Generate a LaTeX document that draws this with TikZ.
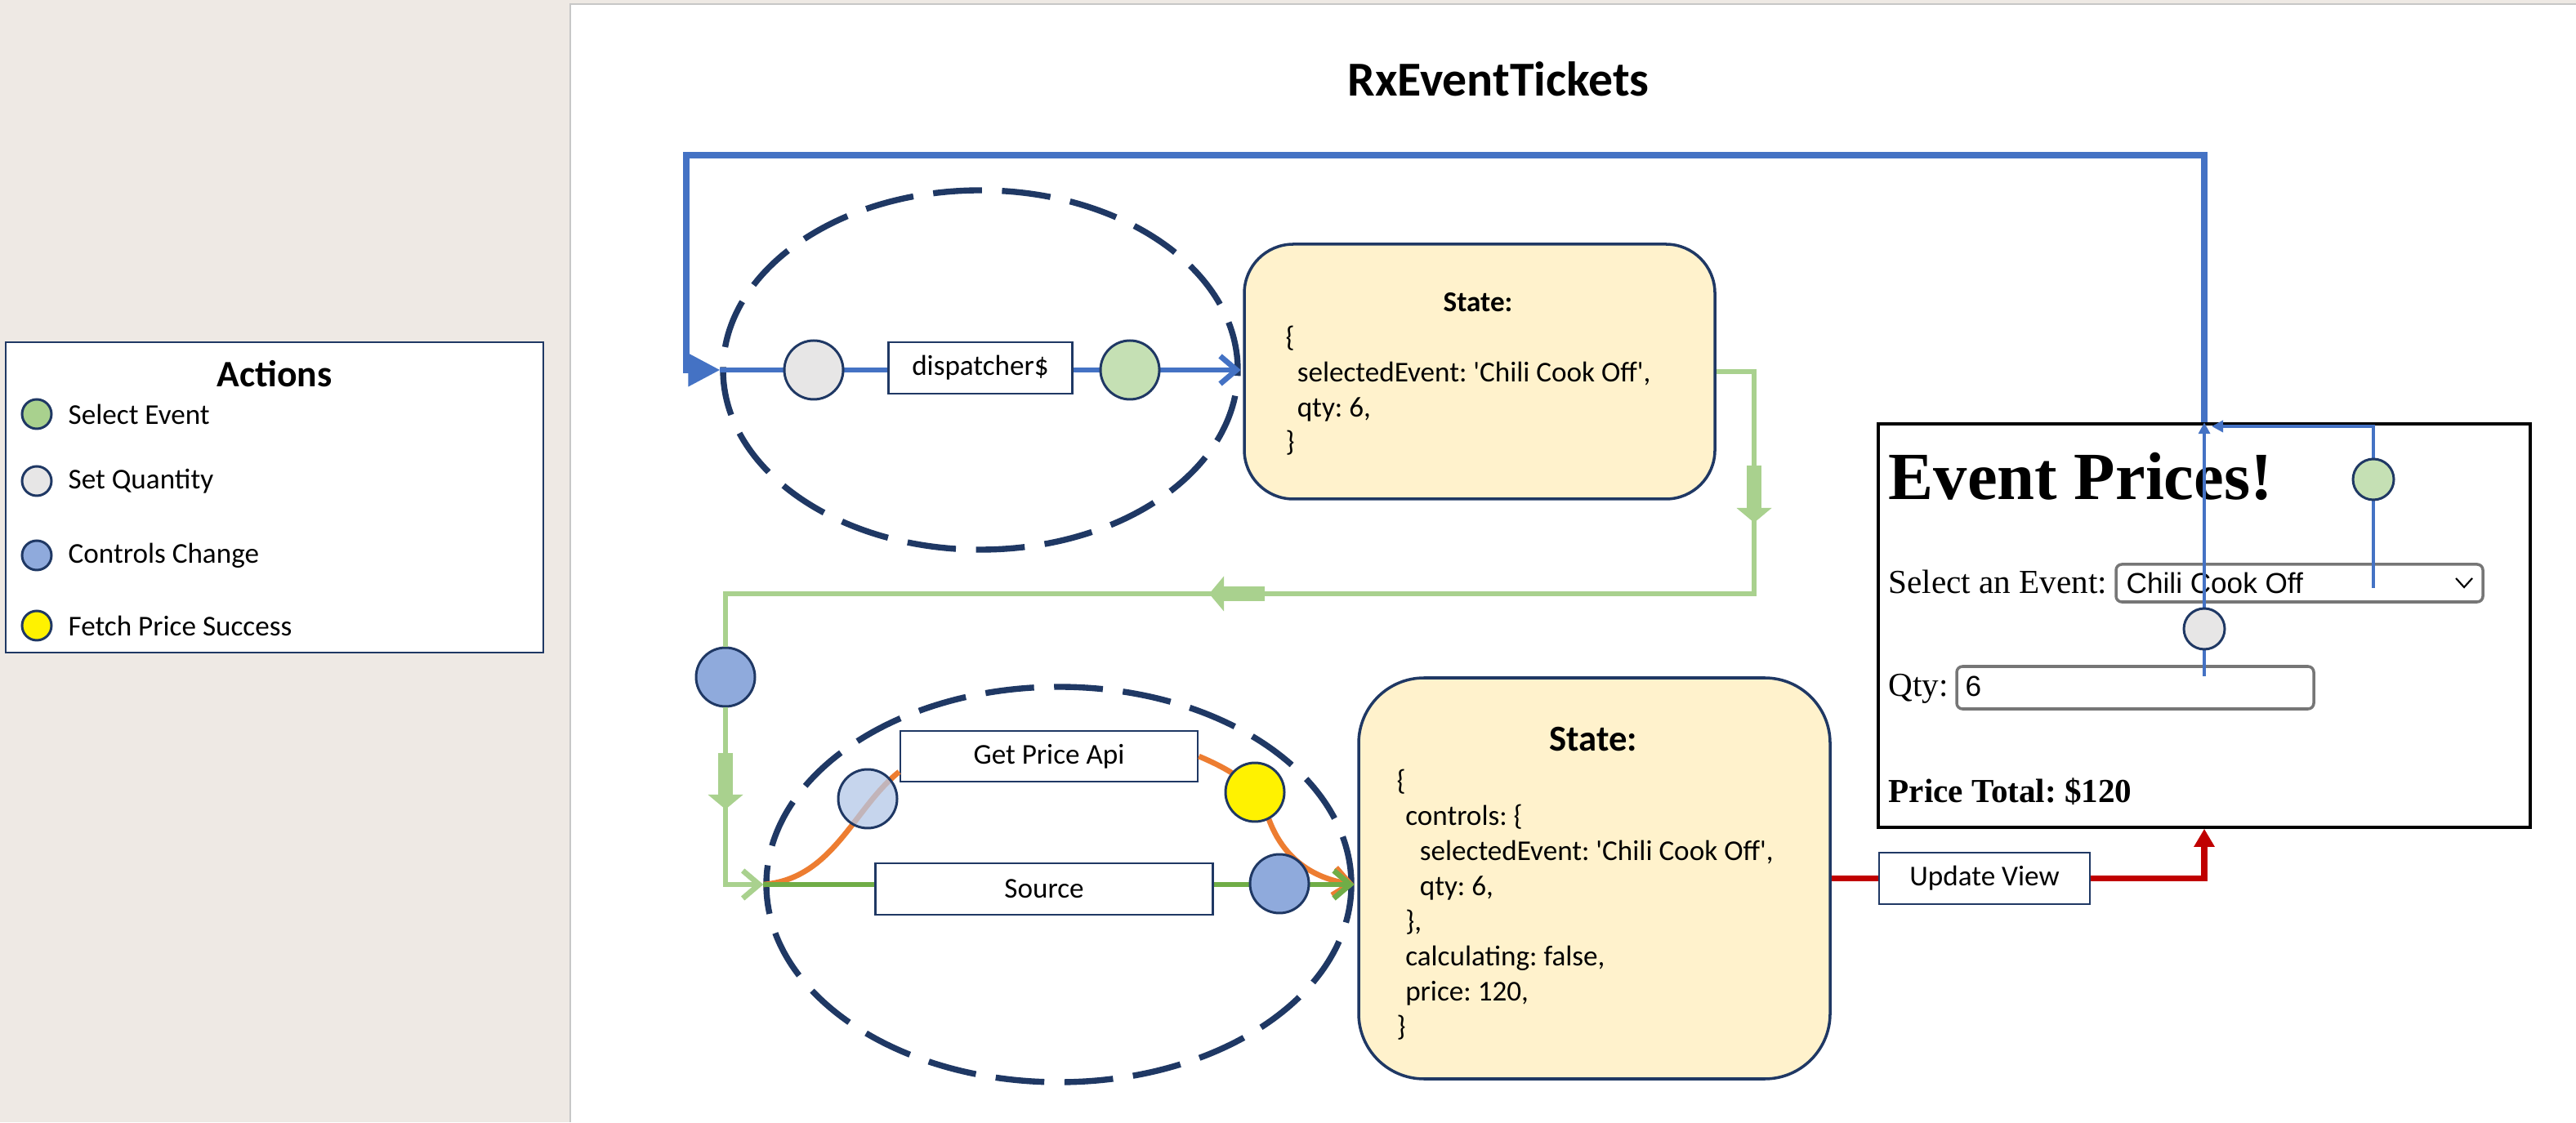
\documentclass[tikz,border=0pt]{standalone}
\usepackage{fontspec}
\setmainfont{Carlito}
\newfontfamily\webserif{Liberation Serif}
\newfontfamily\websans{Liberation Sans}
\usetikzlibrary{shapes.geometric,arrows.meta}

\definecolor{pagebg}{HTML}{EEE9E4}
\definecolor{navy}{HTML}{1F3864}
\definecolor{statefill}{HTML}{FFF2CC}
\definecolor{selgreen}{HTML}{C5E0B4}
\definecolor{legendgreen}{HTML}{A9D18E}
\definecolor{qtygray}{HTML}{E7E6E6}
\definecolor{ctrlblue}{HTML}{8FAADC}
\definecolor{paleblue}{HTML}{B4C7E7}
\definecolor{flowblue}{HTML}{4472C4}
\definecolor{flowgreen}{HTML}{A9D18E}
\definecolor{srcgreen}{HTML}{70AD47}
\definecolor{apiorange}{HTML}{ED7D31}
\definecolor{viewred}{HTML}{C00000}
\definecolor{inputgray}{HTML}{767676}

\tikzset{
	actiondot/.style={circle, draw=navy, line width=0.85pt, minimum size=0.72cm, inner sep=0pt},
	opbox/.style={draw=navy, fill=white, line width=0.8pt, inner sep=0pt},
	statebox/.style={draw=navy, fill=statefill, line width=1pt, inner sep=0pt},
	flowring/.style={ellipse, draw=navy, line width=2.1pt, dash pattern=on 17pt off 7pt, inner sep=0pt},
	codetext/.style={align=left, inner sep=0pt, font=\fontsize{10}{12.2}\selectfont},
	openhead/.style={-{Straight Barb[length=0.2cm, width=0.34cm]}},
	blockarrow/.style={line width=0.18cm, -{Triangle[width=0.42cm, length=0.18cm]}},
	webfield/.style={draw=inputgray, line width=1pt, rounded corners=2pt, inner sep=0pt},
	webtext/.style={anchor=base west, inner sep=0pt, font=\webserif\fontsize{11.7}{14}\selectfont},
}

\begin{document}
\frenchspacing
\begin{tikzpicture}
	\useasboundingbox (0,0) rectangle (31.53,13.74);
	\fill[pagebg] (0,0) rectangle (31.53,13.74);
	\fill[white] (6.98,0) rectangle (31.53,13.69);
	\draw[black!22, line width=0.6pt] (6.98,0) -- (6.98,13.69) -- (31.53,13.69);
	
	\node[font=\fontsize{17}{20}\selectfont\bfseries] (title) at (18.34,12.77) {RxEventTickets};
	
	
	\node[draw=navy, fill=white, line width=0.8pt, minimum width=6.58cm, minimum height=3.8cm, inner sep=0pt] (legend) at (3.36,7.65) {};
	\node[font=\fontsize{13}{15}\selectfont\bfseries] (legtitle) at (3.36,9.16) {Actions};
	\node[actiondot, fill=legendgreen, minimum size=0.36cm] (legsel) at (0.45,8.67) {};
	\node[actiondot, fill=qtygray, minimum size=0.36cm] (legqty) at (0.45,7.85) {};
	\node[actiondot, fill=ctrlblue, minimum size=0.36cm] (legctrl) at (0.45,6.94) {};
	\node[actiondot, fill=yellow, minimum size=0.36cm] (legfetch) at (0.45,6.08) {};
	\node[anchor=west, inner sep=0pt] (legseltext) at (0.83,8.67) {Select Event};
	\node[anchor=west, inner sep=0pt] (legqtytext) at (0.83,7.85) {Set Quantity};
	\node[anchor=west, inner sep=0pt] (legctrltext) at (0.83,6.94) {Controls Change};
	\node[anchor=west, inner sep=0pt] (legfetchtext) at (0.83,6.08) {Fetch Price Success};
	
	
	\node[draw=black, fill=white, line width=1pt, minimum width=7.98cm, minimum height=4.94cm, inner sep=0pt] (evtview) at (26.98,6.08) {};
	\node[webtext, font=\webserif\fontsize{23.5}{26}\selectfont\bfseries] (evthead) at (23.11,7.62) {Event Prices!};
	\node[webtext] (sellabel) at (23.11,6.47) {Select an Event:};
	\node[webfield, minimum width=4.49cm, minimum height=0.46cm] (selfield) at (28.145,6.60) {};
	\node[webtext, font=\websans\fontsize{10}{12}\selectfont] (seltext) at (26.02,6.47) {Chili Cook Off};
	\draw[line width=0.6pt] (30.06,6.66) -- (30.16,6.55) -- (30.26,6.66);
	\node[webtext] (qtylabel) at (23.11,5.21) {Qty:};
	\node[webfield, minimum width=4.37cm, minimum height=0.52cm] (qtyfield) at (26.135,5.32) {};
	\node[webtext, font=\websans\fontsize{10}{12}\selectfont] (qtytext) at (24.05,5.21) {6};
	\node[webtext, font=\webserif\fontsize{11.7}{14}\selectfont\bfseries] (pricetotal) at (23.11,3.91) {Price Total: \$120};
	
	\coordinate (qtysrc) at (26.98,5.46);
	\coordinate (selsrc) at (29.05,6.54);
	\coordinate (seltip) at (27.07,8.52);
	\draw[flowblue, line width=1.2pt, -{Triangle[width=0.14cm, length=0.14cm]}] (qtysrc) -- (evtview.north);
	\draw[flowblue, line width=1.2pt, -{Triangle[width=0.14cm, length=0.14cm]}] (selsrc) |- (seltip);
	\node[actiondot, fill=qtygray, minimum size=0.5cm] (setqty) at (26.98,6.04) {};
	\node[actiondot, fill=selgreen, minimum size=0.5cm] (selevent) at (29.05,7.87) {};
	
	
	\node[flowring, minimum width=6.3cm, minimum height=4.4cm] (dispring) at (12.00,9.21) {};
	\coordinate (loopcorner) at (8.40,11.84);
	\draw[flowblue, line width=2.1pt, -{Triangle[width=0.39cm, length=0.39cm]}] (evtview.north) |- (loopcorner) |- (dispring.west);
	\draw[flowblue, line width=1.9pt, openhead] (dispring.west) -- (dispring.east);
	\node[actiondot, fill=qtygray] (dispqty) at (9.96,9.21) {};
	\node[opbox, minimum width=2.25cm, minimum height=0.63cm] (dispatcher) at (12.00,9.235) {dispatcher\$};
	\node[actiondot, fill=selgreen] (dispsel) at (13.83,9.21) {};
	
	\node[statebox, rounded corners=0.6cm, minimum width=5.76cm, minimum height=3.12cm] (state1) at (18.11,9.19) {};
	\node[font=\bfseries] (state1title) at (18.09,10.04) {State:};
	\node[codetext, anchor=base west] (state1code) at (15.73,8.21) {\{\\
		\hspace*{4pt}selectedEvent: \textquotesingle Chili Cook Off\textquotesingle,\\
		\hspace*{4pt}qty: 6,\\
		\}};
	
	
	\node[flowring, minimum width=7.16cm, minimum height=4.84cm] (pricering) at (12.96,2.91) {};
	\node[actiondot, fill=ctrlblue] (ctrlin) at (8.88,5.45) {};
	\coordinate (bendR) at (21.47,6.47);
	\coordinate (bendL) at (8.88,6.47);
	\draw[flowgreen, line width=1.9pt] (state1.east) -| (bendR) -- (bendL) -- (ctrlin);
	\draw[flowgreen, line width=1.9pt, openhead] (ctrlin) |- (pricering.west);
	\draw[flowgreen, blockarrow] (21.47,8.04) -- (21.47,7.34);
	\draw[flowgreen, blockarrow] (15.48,6.47) -- (14.80,6.47);
	\draw[flowgreen, blockarrow] (8.88,4.52) -- (8.88,3.83);
	
	\node[opbox, minimum width=3.64cm, minimum height=0.62cm] (getprice) at (12.84,4.48) {Get Price Api};
	\draw[apiorange, line width=1.9pt] (pricering.west) .. controls (10.2,2.98) and (10.45,3.85) .. ([yshift=-0.19cm]getprice.west);
	\draw[apiorange, line width=1.9pt, openhead] (getprice.east) .. controls (15.1,4.3) and (15.4,4.1) .. (15.5,3.8) .. controls (15.65,3.3) and (16.0,3.0) .. (pricering.east);
	\draw[srcgreen, line width=1.9pt, openhead] (pricering.west) -- (pricering.east);
	\node[opbox, minimum width=4.13cm, minimum height=0.63cm] (source) at (12.78,2.855) {Source};
	\node[actiondot, fill=paleblue, fill opacity=0.75] (apicall) at (10.62,3.96) {};
	\node[actiondot, fill=yellow] (fetchok) at (15.36,4.04) {};
	\node[actiondot, fill=ctrlblue] (ctrlout) at (15.66,2.92) {};
	
	\node[statebox, rounded corners=0.8cm, minimum width=5.77cm, minimum height=4.91cm] (state2) at (19.515,2.985) {};
	\node[font=\fontsize{12.7}{15}\selectfont\bfseries] (state2title) at (19.50,4.69) {State:};
	\node[codetext, anchor=base west] (state2code) at (17.09,1.06) {\{\\
		\hspace*{3pt}controls: \{\\
		\hspace*{8pt}selectedEvent: \textquotesingle Chili Cook Off\textquotesingle,\\
		\hspace*{8pt}qty: 6,\\
		\hspace*{3pt}\},\\
		\hspace*{3pt}calculating: false,\\
		\hspace*{3pt}price: 120,\\
		\}};
	
	\node[opbox, minimum width=2.58cm, minimum height=0.63cm] (updview) at (24.29,2.985) {Update View};
	\draw[viewred, line width=2.2pt] (state2.east) -- (updview.west);
	\draw[viewred, line width=2.2pt, -{Triangle[width=0.24cm, length=0.22cm]}] (updview.east) -| (evtview.south);
	
\end{tikzpicture}
\end{document}
